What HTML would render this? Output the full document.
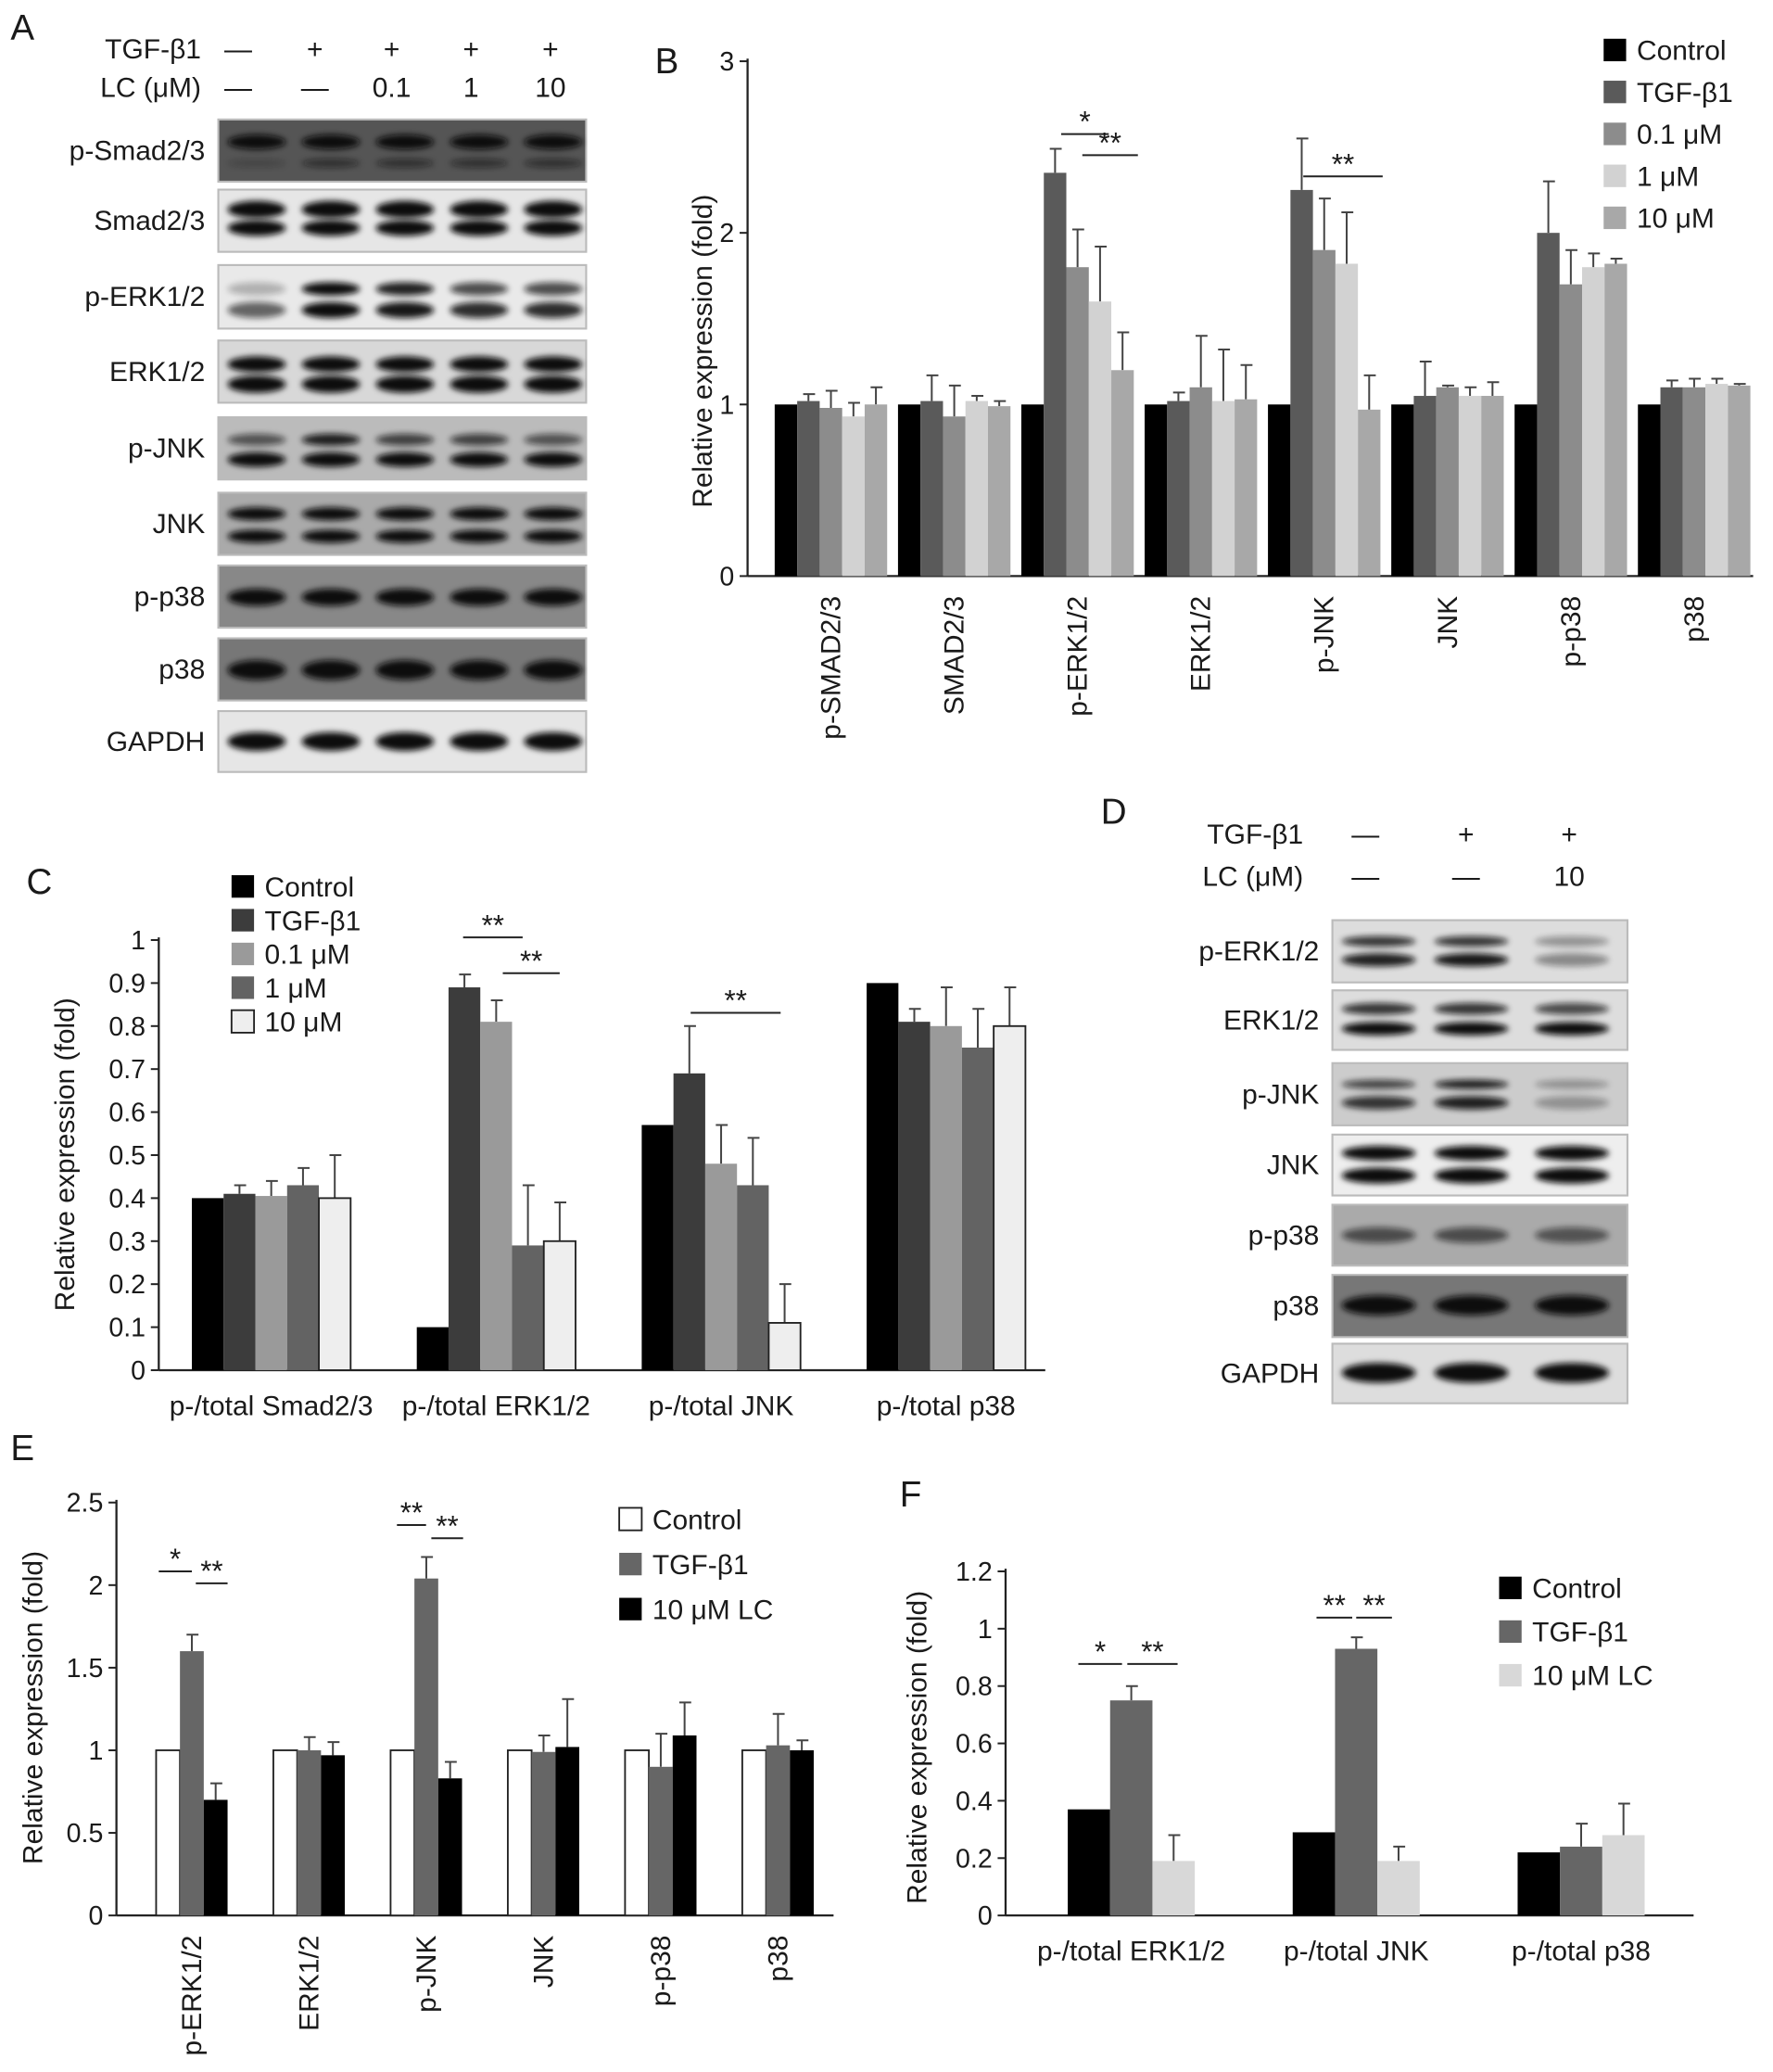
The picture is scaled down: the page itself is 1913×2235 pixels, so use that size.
<!DOCTYPE html>
<html><head><meta charset="utf-8"><style>
html,body{margin:0;padding:0;background:#fff;}
svg{display:block;font-family:"Liberation Sans",Arial,sans-serif;}
</style></head><body>
<svg id="fig" xmlns="http://www.w3.org/2000/svg" width="1913" height="2235" viewBox="0 0 1340 1565">
<defs><filter id="blur" x="-20%" y="-50%" width="140%" height="200%"><feGaussianBlur stdDeviation="2.2"/></filter></defs>
</svg>
<script>
// ---------- data ----------
var bCategories = ["p-SMAD2/3","SMAD2/3","p-ERK1/2","ERK1/2","p-JNK","JNK","p-p38","p38"];
var bSeriesNames = ["Control","TGF-\u03b21","0.1 \u03bcM","1 \u03bcM","10 \u03bcM"];
var bControl = [1,1,1,1,1,1,1,1];
var bTGF = [1.02,1.02,2.35,1.02,2.25,1.05,2.0,1.1];
var bLC01 = [0.98,0.93,1.8,1.1,1.9,1.1,1.7,1.1];
var bLC1 = [0.93,1.02,1.6,1.02,1.82,1.05,1.8,1.12];
var bLC10 = [1.0,0.99,1.2,1.03,0.97,1.05,1.82,1.11];
var bErrTGF = [0.04,0.15,0.14,0.05,0.3,0.2,0.3,0.04];
var bErr01 = [0.1,0.18,0.22,0.3,0.3,0.01,0.2,0.05];
var bErr1 = [0.08,0.03,0.32,0.3,0.3,0.05,0.08,0.03];
var bErr10 = [0.1,0.03,0.22,0.2,0.2,0.08,0.03,0.01];
var bTicks = [0,1,2,3];

var cCategories = ["p-/total Smad2/3","p-/total ERK1/2","p-/total JNK","p-/total p38"];
var cControl = [0.40,0.10,0.57,0.90];
var cTGF = [0.41,0.89,0.69,0.81];
var cLC01 = [0.405,0.81,0.48,0.80];
var cLC1 = [0.43,0.29,0.43,0.75];
var cLC10 = [0.40,0.30,0.11,0.80];
var cErrTGF = [0.02,0.03,0.11,0.03];
var cErr01 = [0.035,0.05,0.09,0.09];
var cErr1 = [0.04,0.14,0.11,0.09];
var cErr10 = [0.10,0.09,0.09,0.09];
var cTicks = [0,0.1,0.2,0.3,0.4,0.5,0.6,0.7,0.8,0.9,1];

var eCategories = ["p-ERK1/2","ERK1/2","p-JNK","JNK","p-p38","p38"];
var eControl = [1,1,1,1,1,1];
var eTGF = [1.6,1.0,2.04,0.99,0.9,1.03];
var eLC = [0.7,0.97,0.83,1.02,1.09,1.0];
var eErrTGF = [0.1,0.08,0.13,0.1,0.2,0.19];
var eErrLC = [0.1,0.08,0.1,0.29,0.2,0.06];
var eTicks = [0,0.5,1,1.5,2,2.5];

var fCategories = ["p-/total ERK1/2","p-/total JNK","p-/total p38"];
var fControl = [0.37,0.29,0.22];
var fTGF = [0.75,0.93,0.24];
var fLC = [0.19,0.19,0.28];
var fErrTGF = [0.05,0.04,0.08];
var fErrLC = [0.09,0.05,0.11];
var fTicks = [0,0.2,0.4,0.6,0.8,1,1.2];

// ---------- helpers ----------
var NS="http://www.w3.org/2000/svg", svg=document.getElementById('fig');
function mk(tag,a,parent){var e=document.createElementNS(NS,tag);for(var k in a)e.setAttribute(k,a[k]);(parent||svg).appendChild(e);return e;}
function txt(x,y,s,size,anchor,parent,rot){var t=mk('text',{x:x,y:y,'font-size':size,'text-anchor':anchor||'start',fill:'#1a1a1a'},parent);if(rot)t.setAttribute('transform','rotate(-90 '+x+' '+y+')');t.textContent=s;return t;}

function panelLabel(s,x,y){var t=txt(x,y,s,27,'start');

}

function barChart(o){
  var g=mk('g',{});
  
  
  function Y(v){return o.y0-(v-o.vmin)/(o.vmax-o.vmin)*(o.y0-o.y1);}
  var ya=mk('line',{x1:o.x0,y1:o.y1-2,x2:o.x0,y2:o.y0,stroke:'#222','stroke-width':1.6},g);
  
  
  var xa=mk('line',{x1:o.x0,y1:o.y0,x2:o.xEnd,y2:o.y0,stroke:'#222','stroke-width':1.6},g);
  
  
  o.ticks.forEach(function(v){
    mk('line',{x1:o.x0-6,y1:Y(v),x2:o.x0,y2:Y(v),stroke:'#222','stroke-width':1.4},g);
    var t=txt(o.x0-10,Y(v)+7,String(v),o.tickSize||20,'end',g);
    
    
  });
  var yt=txt(o.ytX,o.ytY,'Relative expression (fold)',21,'middle',g,true);
  
  
  o.cats.forEach(function(c,i){
    var cx=o.gx0+i*o.gsp, n=o.series.length, left=cx-n*o.bw/2;
    o.series.forEach(function(s,j){
      var v=s.vals[i], x=left+j*o.bw, y=Y(v);
      if(s.err){var ev=s.err[i];var ex=x+o.bw/2;
        var el=mk('path',{d:'M'+ex+' '+y+'V'+Y(v+ev)+'M'+(ex-4)+' '+Y(v+ev)+'H'+(ex+5),stroke:'#444','stroke-width':1.4,fill:'none'},g);
        
        }
      var r=mk('rect',{x:x,y:y,width:o.bw,height:o.y0-y,fill:s.color,stroke:s.stroke||'none','stroke-width':1.3},g);
      
      
    });
    var lt;
    if(o.rotLabels){lt=txt(cx+7,o.y0+15,c,21,'end',g,true);}
    else{lt=txt(cx,o.y0+34,c,21,'middle',g);}
    
    
  });
  o.series.forEach(function(s,j){
    var ly=o.ly+j*o.lsp;
    var sq=mk('rect',{x:o.lx,y:ly-9,width:17,height:17,fill:s.color,stroke:s.stroke||'none','stroke-width':1.3},g);
    
    
    var lt=txt(o.lx+25,ly+7,s.name,21,'start',g);
    
    
  });
  (o.sig||[]).forEach(function(sg){
    var l=mk('line',{x1:sg[0],y1:sg[2],x2:sg[1],y2:sg[2],stroke:'#222','stroke-width':1.4},g);
    
    
    var t=txt((sg[0]+sg[1])/2,sg[2]-2,sg[3],22,'middle',g);
    
    
  });
}

function blot(o){
  var g=mk('g',{});
  
  
  o.rows.forEach(function(r){
    var bx=mk('rect',{x:o.x,y:r.y,width:o.w,height:r.h,fill:r.bg,stroke:'#bbb','stroke-width':1.5},g);
    
    
    var lb=txt(o.x-10,r.y+r.h/2+7,r.label,21,'end',g);
    
    
    o.bandLanes.forEach(function(lx,i){
      r.bands.forEach(function(b){
        var op=(b.int&&b.int[i]!==undefined)?b.int[i]:1;
        var e=mk('ellipse',{cx:lx,cy:r.y+b.dy,rx:o.bandW/2,ry:b.h/2,fill:'#0d0d0d',opacity:op,filter:'url(#blur)'},g);
        
        
      });
    });
  });
  o.header.forEach(function(h){
    var t=txt(o.hx,h.y,h.label,21,'end',g);
    
    
    h.vals.forEach(function(v,i){var s=txt(o.lanes[i],h.y,v,21,'middle',g);
      
      });
  });
}

// ---------- Panel A ----------
panelLabel('A',8,30);
blot({name:'western-blot-a',x:165,w:278,lanes:[180,238,296,356,416],bandLanes:[194,250,306,362,418],bandW:44,hx:152,
 header:[{label:'TGF-\u03b21',y:44,vals:['\u2014','+','+','+','+']},{label:'LC (\u03bcM)',y:73,vals:['\u2014','\u2014','0.1','1','10']}],
 rows:[
 {label:'p-Smad2/3',y:90,h:47,bg:'#555',bands:[{dy:17,h:11},{dy:33,h:7,int:[0.2,0.5,0.5,0.5,0.5]}]},
 {label:'Smad2/3',y:143,h:47,bg:'#e6e6e6',bands:[{dy:15,h:13},{dy:29,h:12}]},
 {label:'p-ERK1/2',y:200,h:48,bg:'#e9e9e9',bands:[{dy:18,h:10,int:[0.25,1,0.9,0.7,0.7]},{dy:34,h:12,int:[0.6,1,0.95,0.85,0.85]}]},
 {label:'ERK1/2',y:257,h:47,bg:'#d8d8d8',bands:[{dy:18,h:12},{dy:33,h:13}]},
 {label:'p-JNK',y:315,h:47,bg:'#bbb',bands:[{dy:17,h:9,int:[0.6,0.9,0.7,0.7,0.6]},{dy:32,h:11}]},
 {label:'JNK',y:372,h:47,bg:'#aaa',bands:[{dy:16,h:10},{dy:33,h:10}]},
 {label:'p-p38',y:427,h:47,bg:'#888',bands:[{dy:24,h:13}]},
 {label:'p38',y:482,h:47,bg:'#777',bands:[{dy:24,h:15}]},
 {label:'GAPDH',y:537,h:46,bg:'#e6e6e6',bands:[{dy:23,h:14}]}
 ]});

// ---------- Panel B ----------
panelLabel('B',495,55);
barChart({name:'chart-b',x0:565,xEnd:1325,y0:435,y1:46,vmin:0,vmax:3,ticks:bTicks,ytX:538,ytY:265,
 cats:bCategories,gx0:628,gsp:93.2,bw:17,rotLabels:true,
 series:[{name:bSeriesNames[0],vals:bControl,color:'#000'},
  {name:bSeriesNames[1],vals:bTGF,err:bErrTGF,color:'#5a5a5a'},
  {name:bSeriesNames[2],vals:bLC01,err:bErr01,color:'#8c8c8c'},
  {name:bSeriesNames[3],vals:bLC1,err:bErr1,color:'#d2d2d2'},
  {name:bSeriesNames[4],vals:bLC10,err:bErr10,color:'#a8a8a8'}],
 lx:1212,ly:38,lsp:31.7,
 sig:[[802,838,101,'*'],[818,860,117,'**'],[985,1045,133,'**']]});

// ---------- Panel C ----------
panelLabel('C',20,675);
barChart({name:'chart-c',x0:120,xEnd:790,y0:1035,y1:710,vmin:0,vmax:1,ticks:cTicks,ytX:56,ytY:872,
 cats:cCategories,gx0:205,gsp:170,bw:24,rotLabels:false,
 series:[{name:'Control',vals:cControl,color:'#000'},
  {name:'TGF-\u03b21',vals:cTGF,err:cErrTGF,color:'#3c3c3c'},
  {name:'0.1 \u03bcM',vals:cLC01,err:cErr01,color:'#9a9a9a'},
  {name:'1 \u03bcM',vals:cLC1,err:cErr1,color:'#636363'},
  {name:'10 \u03bcM',vals:cLC10,err:cErr10,color:'#eeeeee',stroke:'#222'}],
 lx:175,ly:670,lsp:25.5,
 sig:[[350,395,708,'**'],[380,423,735,'**'],[522,590,765,'**']]});

// ---------- Panel D ----------
panelLabel('D',832,622);
blot({name:'western-blot-d',x:1007,w:223,lanes:[1032,1108,1186],bandLanes:[1042,1112,1188],bandW:56,hx:985,
 header:[{label:'TGF-\u03b21',y:637,vals:['\u2014','+','+']},{label:'LC (\u03bcM)',y:669,vals:['\u2014','\u2014','10']}],
 rows:[
 {label:'p-ERK1/2',y:695,h:47,bg:'#ddd',bands:[{dy:16,h:8,int:[0.8,0.8,0.35]},{dy:30,h:10,int:[0.9,0.95,0.4]}]},
 {label:'ERK1/2',y:748,h:45,bg:'#ddd',bands:[{dy:14,h:9,int:[0.8,0.8,0.7]},{dy:29,h:10}]},
 {label:'p-JNK',y:803,h:47,bg:'#ccc',bands:[{dy:16,h:7,int:[0.7,0.9,0.3]},{dy:30,h:10,int:[0.8,0.9,0.3]}]},
 {label:'JNK',y:857,h:46,bg:'#eee',bands:[{dy:14,h:11},{dy:31,h:12}]},
 {label:'p-p38',y:910,h:46,bg:'#aaa',bands:[{dy:23,h:12,int:[0.6,0.6,0.55]}]},
 {label:'p38',y:963,h:47,bg:'#777',bands:[{dy:23,h:15}]},
 {label:'GAPDH',y:1015,h:45,bg:'#ddd',bands:[{dy:22,h:15}]}
 ]});

// ---------- Panel E ----------
panelLabel('E',8,1103);
barChart({name:'chart-e',x0:88,xEnd:630,y0:1447,y1:1135,vmin:0,vmax:2.5,ticks:eTicks,ytX:32,ytY:1290,
 cats:eCategories,gx0:145,gsp:88.6,bw:18,rotLabels:true,
 series:[{name:'Control',vals:eControl,color:'#fff',stroke:'#222'},
  {name:'TGF-\u03b21',vals:eTGF,err:eErrTGF,color:'#666'},
  {name:'10 \u03bcM LC',vals:eLC,err:eErrLC,color:'#000'}],
 lx:468,ly:1148,lsp:34,
 sig:[[120,145,1187,'*'],[148,172,1196,'**'],[300,322,1152,'**'],[326,350,1162,'**']]});

// ---------- Panel F ----------
panelLabel('F',680,1138);
barChart({name:'chart-f',x0:760,xEnd:1280,y0:1447,y1:1187,vmin:0,vmax:1.2,ticks:fTicks,ytX:700,ytY:1320,
 cats:fCategories,gx0:855,gsp:170,bw:32,rotLabels:false,
 series:[{name:'Control',vals:fControl,color:'#000'},
  {name:'TGF-\u03b21',vals:fTGF,err:fErrTGF,color:'#666'},
  {name:'10 \u03bcM LC',vals:fLC,err:fErrLC,color:'#d8d8d8'}],
 lx:1133,ly:1200,lsp:33,
 sig:[[815,848,1257,'*'],[852,890,1257,'**'],[995,1022,1222,'**'],[1025,1052,1222,'**']]});
</script>
</body></html>
